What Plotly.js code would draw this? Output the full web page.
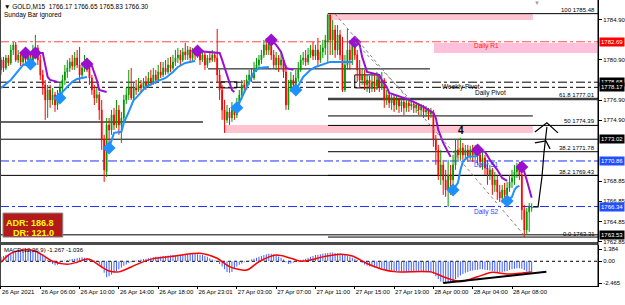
<!DOCTYPE html>
<html><head><meta charset="utf-8">
<script src="https://cdn.plot.ly/plotly-3.0.1.min.js"></script>
<style>html,body{margin:0;padding:0;background:#fff;}#chart{width:625px;height:305px;}</style>
</head><body><div id="chart"></div>
<script>
// ---------- time axis ----------
const tickIdx = [0,16,32,48,64,80,96,112,128,144,160,176,192,208];
const tickText = ['26 Apr 2021','26 Apr 06:00','26 Apr 10:00','26 Apr 14:00','26 Apr 18:00','26 Apr 23:01','27 Apr 03:00','27 Apr 07:00','27 Apr 11:00','27 Apr 15:00','27 Apr 19:00','28 Apr 00:00','28 Apr 04:00','28 Apr 08:00'];

// ---------- GOLD M15 OHLC ----------
const openP = [
1779.90,1780.89,1780.09,1781.09,1780.59,1781.88,1782.38,1780.89,1781.38,1780.69,
1781.38,1780.89,1781.28,1780.69,1781.88,1782.08,1780.89,1779.40,1778.41,1776.92,
1777.91,1776.92,1777.42,1776.42,1777.42,1778.11,1778.90,1779.70,1780.09,1780.69,
1780.29,1781.09,1780.39,1779.40,1780.09,1780.69,1780.29,1779.10,1777.91,1777.12,
1777.42,1775.93,1772.95,1769.78,1774.44,1773.94,1775.43,1774.44,1775.93,1774.44,
1775.13,1776.92,1777.42,1778.11,1777.12,1778.11,1777.91,1778.41,1778.11,1778.71,
1778.31,1779.10,1778.71,1779.40,1778.90,1779.70,1779.40,1780.09,1779.70,1780.39,
1780.09,1780.69,1781.09,1781.38,1780.89,1781.68,1781.38,1781.88,1781.09,1781.68,
1781.38,1781.68,1780.89,1781.38,1780.39,1781.09,1780.89,1781.38,1781.09,1779.40,
1777.91,1775.93,1774.94,1775.73,1775.13,1775.93,1775.43,1776.42,1777.42,1778.41,
1778.11,1778.90,1779.40,1779.10,1779.90,1780.39,1780.89,1781.38,1782.38,1781.88,
1782.67,1781.38,1780.39,1781.09,1780.39,1780.89,1779.70,1776.42,1778.11,1778.90,
1778.41,1779.10,1779.90,1780.89,1781.09,1780.69,1781.38,1781.88,1781.28,1781.88,
1780.89,1781.68,1782.08,1782.67,1785.35,1782.87,1783.86,1781.88,1783.37,1781.38,
1777.91,1780.39,1781.88,1780.89,1782.38,1781.38,1779.90,1778.90,1779.40,1778.41,
1778.90,1778.11,1778.71,1778.31,1778.90,1778.11,1778.90,1776.92,1777.42,1776.62,
1777.12,1776.42,1776.92,1776.32,1776.72,1776.13,1776.62,1776.32,1776.52,1776.13,
1776.42,1775.93,1776.23,1775.73,1775.93,1775.53,1775.73,1772.95,1771.96,1769.48,
1770.47,1768.98,1767.99,1769.48,1768.98,1770.47,1771.96,1771.46,1772.16,1771.46,
1771.96,1771.36,1771.96,1771.46,1771.96,1771.46,1770.77,1771.17,1770.17,1769.48,
1769.98,1768.49,1768.98,1767.79,1767.20,1767.99,1767.50,1768.19,1768.79,1769.18,
1769.78,1770.17,1769.48,1766.01,1764.02,1765.81,1766.17];
const highP = [
1781.19,1781.19,1781.38,1781.38,1782.38,1782.67,1782.67,1781.88,1781.68,1781.88,
1781.88,1781.68,1781.58,1782.38,1783.37,1782.38,1781.38,1779.90,1778.90,1778.41,
1778.41,1778.11,1777.71,1777.91,1778.71,1779.40,1780.39,1780.89,1781.09,1781.38,
1781.68,1781.88,1782.18,1780.69,1781.38,1781.09,1780.69,1779.40,1778.41,1778.11,
1777.71,1776.92,1773.45,1775.13,1775.13,1775.93,1776.13,1776.92,1776.42,1775.73,
1777.42,1778.11,1779.90,1780.09,1778.71,1778.90,1779.10,1778.90,1779.10,1779.30,
1779.70,1779.90,1780.09,1779.90,1780.39,1780.69,1780.69,1780.89,1781.09,1781.19,
1781.38,1781.88,1782.08,1781.88,1782.08,1782.57,1782.28,1782.18,1782.08,1782.08,
1782.08,1781.88,1781.88,1781.68,1781.38,1781.68,1781.88,1781.68,1783.96,1779.90,
1778.41,1776.92,1776.42,1776.13,1776.72,1776.42,1777.12,1777.91,1778.90,1778.90,
1779.40,1779.90,1780.09,1780.69,1781.09,1781.38,1781.88,1782.87,1783.07,1783.07,
1783.07,1781.88,1781.68,1781.38,1781.68,1781.09,1780.39,1778.90,1779.70,1779.40,
1779.90,1780.69,1781.38,1781.68,1781.88,1782.08,1782.38,1782.67,1782.38,1783.07,
1782.38,1782.87,1783.37,1785.48,1785.40,1784.86,1784.36,1784.36,1783.86,1783.17,
1781.38,1784.06,1782.87,1783.07,1782.87,1781.88,1780.89,1780.09,1779.90,1779.40,
1779.30,1779.60,1779.40,1779.70,1779.40,1779.70,1779.10,1777.91,1777.71,1777.42,
1777.42,1777.32,1777.12,1777.12,1776.92,1777.12,1776.92,1776.92,1776.82,1776.72,
1776.62,1776.52,1776.42,1776.32,1776.13,1776.13,1775.93,1773.45,1772.46,1771.96,
1770.97,1769.98,1770.97,1770.47,1771.46,1772.95,1772.95,1773.15,1772.65,1772.46,
1772.46,1772.36,1772.46,1772.46,1772.26,1771.96,1771.76,1771.46,1770.97,1770.47,
1770.17,1769.78,1769.48,1768.49,1768.49,1768.69,1768.79,1769.48,1769.98,1770.47,
1770.67,1770.77,1770.17,1766.50,1766.21,1766.70,1766.65];
const lowP = [
1779.40,1779.70,1779.90,1780.29,1780.39,1781.38,1780.69,1780.59,1780.29,1780.39,
1780.49,1780.39,1780.09,1780.59,1781.28,1780.39,1778.90,1777.42,1774.94,1775.13,
1776.13,1776.42,1775.73,1775.93,1776.92,1777.71,1778.41,1779.10,1779.70,1779.90,
1779.90,1780.09,1778.61,1779.10,1779.70,1779.70,1778.41,1777.42,1776.42,1776.62,
1774.94,1771.96,1768.79,1769.28,1772.46,1773.45,1773.94,1774.14,1773.45,1772.65,
1774.74,1776.52,1776.92,1776.92,1776.72,1777.42,1777.71,1777.61,1777.91,1777.91,
1778.11,1778.31,1778.41,1778.51,1778.71,1779.10,1779.20,1779.40,1779.50,1779.70,
1779.90,1780.29,1780.59,1780.39,1780.69,1780.89,1780.89,1780.59,1780.69,1780.89,
1781.09,1780.39,1780.69,1779.90,1780.09,1780.59,1780.69,1780.69,1778.61,1776.92,
1774.94,1773.65,1774.64,1774.44,1774.74,1774.94,1775.13,1775.93,1776.92,1777.71,
1777.91,1778.41,1778.71,1778.90,1779.70,1780.09,1780.49,1781.09,1781.38,1781.38,
1780.89,1780.09,1779.90,1779.70,1780.09,1779.10,1775.93,1775.93,1777.71,1777.91,
1777.71,1778.71,1779.70,1780.39,1780.29,1780.39,1781.09,1780.89,1780.89,1780.39,
1780.59,1781.09,1781.38,1780.69,1781.38,1781.38,1781.09,1781.38,1780.89,1777.71,
1777.71,1779.90,1779.90,1780.39,1780.89,1778.71,1778.11,1778.41,1777.91,1777.71,
1777.61,1777.71,1777.71,1777.91,1777.71,1777.91,1776.13,1776.42,1776.13,1775.93,
1775.73,1775.93,1775.63,1775.73,1775.43,1775.73,1775.73,1775.93,1775.63,1775.63,
1775.43,1775.43,1775.13,1775.23,1774.94,1775.13,1772.26,1770.47,1768.98,1768.49,
1767.50,1767.30,1766.31,1767.50,1767.79,1769.98,1770.97,1770.97,1770.97,1770.97,
1770.77,1770.97,1770.77,1770.97,1770.47,1770.17,1769.98,1769.48,1768.49,1768.98,
1767.50,1767.79,1767.00,1766.80,1766.70,1766.80,1767.00,1767.79,1768.19,1768.49,
1769.18,1768.98,1765.02,1763.31,1763.53,1763.83,1765.83];
const closeP = [
1780.89,1780.09,1781.09,1780.59,1781.88,1782.38,1780.89,1781.38,1780.69,1781.38,
1780.89,1781.28,1780.69,1781.88,1782.08,1780.89,1779.40,1778.41,1776.92,1777.91,
1776.92,1777.42,1776.42,1777.42,1778.11,1778.90,1779.70,1780.09,1780.69,1780.29,
1781.09,1780.39,1779.40,1780.09,1780.69,1780.29,1779.10,1777.91,1777.12,1777.42,
1775.93,1772.95,1769.98,1774.44,1773.94,1775.43,1774.44,1775.93,1774.44,1775.13,
1776.92,1777.42,1778.11,1777.12,1778.11,1777.91,1778.41,1778.11,1778.71,1778.31,
1779.10,1778.71,1779.40,1778.90,1779.70,1779.40,1780.09,1779.70,1780.39,1780.09,
1780.69,1781.09,1781.38,1780.89,1781.68,1781.38,1781.88,1781.09,1781.68,1781.38,
1781.68,1780.89,1781.38,1780.39,1781.09,1780.89,1781.38,1781.09,1779.40,1777.91,
1775.93,1774.94,1775.73,1775.13,1775.93,1775.43,1776.42,1777.42,1778.41,1778.11,
1778.90,1779.40,1779.10,1779.90,1780.39,1780.89,1781.38,1782.38,1781.88,1782.67,
1781.38,1780.39,1781.09,1780.39,1780.89,1779.70,1776.42,1778.11,1778.90,1778.41,
1779.10,1779.90,1780.89,1781.09,1780.69,1781.38,1781.88,1781.28,1781.88,1780.89,
1781.68,1782.08,1782.87,1785.35,1782.87,1783.86,1781.88,1783.37,1781.38,1777.91,
1780.39,1781.88,1780.89,1782.38,1781.38,1779.90,1778.90,1779.40,1778.41,1778.90,
1778.11,1778.71,1778.31,1778.90,1778.11,1778.90,1776.92,1777.42,1776.62,1777.12,
1776.42,1776.92,1776.32,1776.72,1776.13,1776.62,1776.32,1776.52,1776.13,1776.42,
1775.93,1776.23,1775.73,1775.93,1775.53,1775.73,1772.95,1771.96,1769.48,1770.47,
1768.98,1767.99,1769.48,1768.98,1770.47,1771.96,1771.46,1772.16,1771.46,1771.96,
1771.36,1771.96,1771.46,1771.96,1771.46,1770.77,1771.17,1770.17,1769.48,1769.98,
1768.49,1768.98,1767.79,1767.20,1767.99,1767.50,1768.19,1768.79,1769.18,1769.78,
1770.17,1769.48,1766.01,1764.02,1765.81,1766.31,1766.30];

// ---------- trailing stop lines & diamonds ----------
const purpleX = [10,17,18,19,20,23,null,35,37,38,39,40,43,null,80,89,90,91,93,94,95,null,110,112,114,115,116,119,null,
  144,146,147,149,154,155,157,158,164,168,172,176,177,178,180,182,183,null,194,197,199,202,204,206,null,212,213,214,215,216];
const purpleY = [1781.58,1781.58,1780.39,1779.20,1778.90,1778.71,null,1780.49,1780.29,1779.60,1778.90,1777.91,1777.71,null,
  1781.78,1781.58,1780.89,1780.09,1778.71,1777.91,1777.71,null,1782.87,1782.38,1781.68,1780.89,1780.09,1779.90,null,
  1782.67,1782.38,1781.19,1779.70,1779.40,1778.90,1778.21,1777.61,1777.12,1776.72,1776.23,1775.63,1775.13,1773.94,1772.65,1771.66,1771.27,null,
  1771.96,1771.76,1770.97,1769.98,1769.18,1768.89,null,1770.27,1769.78,1768.98,1767.99,1767.20];
const blueX = [0,1,4,6,8,9,12,null,24,25,27,29,31,35,null,44,46,49,50,52,54,55,59,63,67,70,72,75,79,null,
  96,98,100,101,103,105,109,null,120,122,123,126,128,134,143,null,184,186,187,188,190,194,null,206,208,209,210,211];
const blueY = [1778.11,1778.31,1778.90,1779.50,1780.09,1780.39,1780.49,null,1777.12,1777.71,1778.21,1778.71,1779.00,1779.20,null,
  1772.16,1773.65,1773.75,1774.64,1775.73,1776.92,1777.12,1778.21,1778.71,1779.10,1779.70,1780.19,1780.59,1780.79,null,
  1776.13,1777.12,1778.11,1778.71,1779.70,1780.09,1780.19,null,1777.91,1778.71,1779.20,1779.90,1780.19,1780.69,1780.69,null,
  1767.99,1768.69,1769.98,1770.77,1771.27,1771.36,null,1766.90,1767.30,1767.99,1768.29,1768.39];
const purpleDiaX = [10,14,35,80,110,144,194,212];
const purpleDiaY = [1781.58,1781.58,1780.49,1781.78,1782.87,1782.67,1771.96,1770.27];
const blueDiaX = [12,24,44,96,120,184,206];
const blueDiaY = [1780.49,1777.12,1772.16,1776.13,1777.91,1767.99,1766.90];

// ---------- hand drawn arrows ----------
const arrowX = [216.5,218.6,220.2,221.0,222.2,null,217.3,222.2,226.7,null,217.3,221.8,223.5];
const arrowY = [1766.31,1766.31,1769.28,1771.66,1774.24,null,1773.74,1774.64,1773.65,null,1772.65,1772.85,1772.06];

// ---------- MACD(12,26,9) ----------
const macdHist = [
0.5,0.6,0.7,0.8,0.9,1.0,1.1,1.2,1.2,1.3,
1.3,1.35,1.3,1.25,1.2,1.1,0.95,0.75,0.45,0.15,
-0.1,-0.3,-0.45,-0.4,-0.25,-0.1,0.05,0.15,0.2,0.25,
0.3,0.35,0.4,0.45,0.4,0.35,0.3,0.2,0.1,0.0,
-0.3,-0.8,-1.3,-1.8,-1.7,-1.5,-1.3,-1.1,-0.9,-0.7,
-0.5,-0.35,-0.2,-0.1,0.0,0.1,0.15,0.2,0.25,0.3,
0.35,0.4,0.45,0.5,0.5,0.55,0.6,0.6,0.65,0.65,
0.7,0.7,0.7,0.75,0.75,0.8,0.8,0.8,0.85,0.85,
0.8,0.75,0.7,0.6,0.5,0.35,0.2,0.1,0.0,-0.3,
-0.6,-0.9,-1.2,-1.3,-1.2,-0.9,-0.6,-0.4,-0.25,-0.1,
0.0,0.1,0.2,0.3,0.4,0.5,0.6,0.7,0.8,0.85,
0.85,0.8,0.7,0.55,0.4,0.2,-0.1,-0.3,-0.25,-0.15,
-0.05,0.05,0.1,0.2,0.3,0.4,0.5,0.6,0.7,0.75,
0.8,0.85,0.9,0.95,1.0,1.0,0.95,0.9,0.85,0.75,
0.7,0.6,0.5,0.4,0.3,0.15,0.0,-0.2,-0.35,-0.5,
-0.55,-0.6,-0.7,-0.75,-0.8,-0.85,-0.9,-1.0,-1.0,-1.05,
-1.1,-1.1,-1.15,-1.15,-1.2,-1.2,-1.2,-1.25,-1.25,-1.2,
-1.2,-1.2,-1.25,-1.25,-1.2,-1.25,-1.4,-1.7,-2.0,-2.3,
-2.45,-2.5,-2.45,-2.35,-2.2,-2.0,-1.8,-1.6,-1.45,-1.3,
-1.2,-1.1,-1.05,-1.0,-0.95,-0.9,-0.9,-0.95,-1.0,-1.05,
-1.1,-1.15,-1.2,-1.2,-1.2,-1.15,-1.1,-1.0,-0.9,-0.85,
-0.8,-0.8,-0.85,-1.0,-1.15,-1.22,-1.27];
const signalX = [0,4,8,13,17,21,27,31,35,37,40,44,48,53,57,62,70,78,81,88,93,100,105,112,118,122,126,131,138,143,149,155,161,175,180,187,194,200,206,211,216];
const signalY = [-0.1,0.9,1.25,1.25,0.7,0.0,-0.34,-0.1,0.25,0.1,-0.45,-1.1,-1.2,-0.64,-0.15,0.3,0.57,0.87,0.9,0.34,-0.6,-1.0,-0.05,0.7,0.34,0.0,0.15,0.5,0.8,0.6,-0.25,-0.9,-1.2,-1.2,-1.75,-2.3,-1.75,-1.25,-1.45,-1.35,-1.2];
const macdTrendX = [180,222];
const macdTrendY = [-2.46,-1.18];

// ---------- levels ----------
const priceTicks = [1784.90,1780.90,1776.90,1774.90,1768.85,1766.85,1764.85,1762.85];
const macdTicks = [1.384,0,-2.465];
const macdTickText = ['1.384','0.00','-2.465'];
const fullLevels = [1782.69,1778.68,1778.17,1773.02,1770.86,1769.43,1766.34,1763.53];
const fullStyles = [['#ff4a4a','dashdot'],['#000','dashdot'],['#000','dashdot'],['#000','solid'],['#1f2fff','dashdot'],['#000','solid'],['#1f2fff','dashdot'],['#000','solid']];
const fibLevels = [1785.48,1777.01,1774.39,1771.78,1769.43,1763.31];
const fibText = ['100 1785.48','61.8 1777.01','50 1774.39','38.2 1771.78','38.2 1769.43','0.0 1763.31'];
const tagPrices = [1782.69,1778.68,1778.17,1773.02,1770.86,1766.34,1763.53];
const tagColors = ['#ff0000','#000','#000','#000','#2050ff','#2050ff','#000'];

const bars = openP.map((_, i) => i);
const FONT = 'Liberation Sans, Arial, sans-serif';
const XMAX = 243.0;

const traces = [
  {type:'candlestick', x:bars, open:openP, high:highP, low:lowP, close:closeP, xaxis:'x', yaxis:'y',
   increasing:{line:{color:'#009a00',width:1}, fillcolor:'#009a00'},
   decreasing:{line:{color:'#ff0000',width:1}, fillcolor:'#ff0000'}, whiskerwidth:0, hoverinfo:'skip'},
  {type:'scatter', mode:'lines', x:purpleX, y:purpleY, line:{color:'#9a10d0',width:2}, connectgaps:false, xaxis:'x', yaxis:'y'},
  {type:'scatter', mode:'lines', x:blueX, y:blueY, line:{color:'#1e90ff',width:2}, connectgaps:false, xaxis:'x', yaxis:'y'},
  {type:'scatter', mode:'markers', x:purpleDiaX, y:purpleDiaY, marker:{symbol:'diamond',size:10,color:'#9a10d0'}, xaxis:'x', yaxis:'y'},
  {type:'scatter', mode:'markers', x:blueDiaX, y:blueDiaY, marker:{symbol:'diamond',size:10,color:'#1e90ff'}, xaxis:'x', yaxis:'y'},
  {type:'scatter', mode:'lines', x:arrowX, y:arrowY, line:{color:'#000',width:1.2}, connectgaps:false, xaxis:'x', yaxis:'y'},
  {type:'bar', x:bars, y:macdHist, width:0.4, marker:{color:'#3d5cff',line:{width:0}}, xaxis:'x', yaxis:'y2'},
  {type:'scatter', mode:'lines', x:signalX, y:signalY, line:{color:'#ff0000',width:1.5,shape:'spline',smoothing:0.8}, xaxis:'x', yaxis:'y2'},
  {type:'scatter', mode:'lines', x:macdTrendX, y:macdTrendY, line:{color:'#000',width:2}, xaxis:'x', yaxis:'y2'}
];

const shapes = [];
// pink zones
shapes.push({type:'rect', xref:'x', yref:'y', x0:133.5, x1:216.5, y0:1784.85, y1:1785.45, fillcolor:'#ffc4d0', line:{width:0}, layer:'below'});
shapes.push({type:'rect', xref:'x', yref:'y', x0:176.2, x1:242.6, y0:1781.58, y1:1782.57, fillcolor:'#ffc0dc', line:{width:0}, layer:'below'});
shapes.push({type:'rect', xref:'x', yref:'y', x0:90.8, x1:216.5, y0:1773.64, y1:1774.44, fillcolor:'#ffc4d0', line:{width:0}, layer:'below'});
// full-width levels
fullLevels.forEach((v, k) => shapes.push({type:'line', xref:'paper', yref:'y', x0:0, x1:1, y0:v, y1:v,
  line:{color:fullStyles[k][0], width:1, dash:fullStyles[k][1]}, layer:'below'}));
// fibonacci levels (from the swing high onwards)
fibLevels.forEach((v, k) => shapes.push({type:'line', xref:'x', yref:'y', x0:133.1, x1:XMAX, y0:v, y1:v,
  line:{color: k===1 ? '#404040' : '#000', width: k===1 ? 2.5 : 1}, layer:'below'}));
// other drawn segments
shapes.push({type:'line', xref:'x', yref:'y', x0:84.3, x1:174.6, y0:1780.00, y1:1780.00, line:{color:'#000',width:1}, layer:'below'});
shapes.push({type:'line', xref:'x', yref:'y', x0:133.1, x1:216.5, y0:1775.33, y1:1775.33, line:{color:'#000',width:1}, layer:'below'});
shapes.push({type:'line', xref:'x', yref:'y', x0:-0.4, x1:82.2, y0:1774.74, y1:1774.74, line:{color:'#333',width:1.5}, layer:'below'});
shapes.push({type:'rect', xref:'x', yref:'y', x0:144, x1:153.5, y0:1778.11, y1:1779.40, line:{color:'#000',width:1}, layer:'below'});
shapes.push({type:'rect', xref:'x', yref:'y', x0:89.5, x1:96, y0:1778.11, y1:1778.71, line:{color:'#000',width:1}, layer:'below'});
// dotted trend lines
shapes.push({type:'line', xref:'x', yref:'y', x0:136, x1:213.3, y0:1785.45, y1:1763.40, line:{color:'#808080',width:1,dash:'dot'}});
shapes.push({type:'line', xref:'x', yref:'y', x0:144, x1:166.5, y0:1782.67, y1:1777.00, line:{color:'#808080',width:1,dash:'dot'}});
// MACD zero line
shapes.push({type:'line', xref:'paper', yref:'y2', x0:0, x1:1, y0:0, y1:0, line:{color:'#000',width:1,dash:'dot'}, layer:'below'});
// frame
shapes.push({type:'line', xref:'paper', yref:'paper', x0:0, x1:1, y0:0.1486, y1:0.1486, line:{color:'#4a4a4a',width:3}});
shapes.push({type:'line', xref:'paper', yref:'paper', x0:0, x1:0, y0:0, y1:1, line:{color:'#444',width:2}});
shapes.push({type:'line', xref:'paper', yref:'paper', x0:1, x1:1, y0:0, y1:1, line:{color:'#000',width:1}});
// ADR box
shapes.push({type:'rect', xref:'paper', yref:'paper', x0:0.005, x1:0.105, y0:0.171, y1:0.255, fillcolor:'#b31b1b', line:{color:'#8a8a8a',width:1}});

const annotations = [];
const A = (o) => annotations.push(Object.assign({showarrow:false, font:{family:FONT,size:6,color:'#000'}}, o));
A({xref:'paper', yref:'paper', x:0.004, y:0.979, xanchor:'left', yanchor:'middle', text:'▼ GOLD,M15  1766.17 1766.65 1765.83 1766.30', font:{family:FONT,size:6.5,color:'#000'}});
A({xref:'paper', yref:'paper', x:0.004, y:0.946, xanchor:'left', yanchor:'middle', text:'Sunday Bar ignored', font:{family:FONT,size:6.5,color:'#000'}});
A({xref:'paper', yref:'paper', x:0.004, y:0.126, xanchor:'left', yanchor:'middle', text:'MACD(12,26,9) -1.267 -1.036', font:{family:FONT,size:6,color:'#000'}});
A({xref:'paper', yref:'paper', x:0.093, y:0.221, xanchor:'right', yanchor:'middle', text:'<b>ADR: 186.8</b>', font:{family:FONT,size:9,color:'#ffff00'}});
A({xref:'paper', yref:'paper', x:0.093, y:0.184, xanchor:'right', yanchor:'middle', text:'<b>DR: 121.0</b>', font:{family:FONT,size:9,color:'#ffff00'}});
const fibTextY = [1785.89,1777.36,1774.83,1772.15,1769.77,1763.62];
fibText.forEach((t, k) => A({xref:'x', yref:'y', x:242.6, y:fibTextY[k], xanchor:'right', yanchor:'middle', text:t}));
A({xref:'x', yref:'y', x:191.7, y:1782.27, xanchor:'left', yanchor:'middle', text:'Daily R1', font:{family:FONT,size:6.5,color:'#ff2020'}});
A({xref:'x', yref:'y', x:178.7, y:1778.20, xanchor:'left', yanchor:'middle', text:'Weekly Pivot', font:{family:FONT,size:6.5,color:'#000'}});
A({xref:'x', yref:'y', x:192.0, y:1777.62, xanchor:'left', yanchor:'middle', text:'Daily Pivot', font:{family:FONT,size:6.5,color:'#000'}});
A({xref:'x', yref:'y', x:187.2, y:1773.84, xanchor:'center', yanchor:'middle', text:'<b>4</b>', font:{family:FONT,size:10,color:'#000'}});
A({xref:'x', yref:'y', x:191.7, y:1770.42, xanchor:'left', yanchor:'middle', text:'Daily S1', font:{family:FONT,size:6.5,color:'#2040ff'}});
A({xref:'x', yref:'y', x:191.7, y:1765.80, xanchor:'left', yanchor:'middle', text:'Daily S2', font:{family:FONT,size:6.5,color:'#2040ff'}});
A({xref:'x', yref:'paper', x:218, y:0.99, xanchor:'center', yanchor:'middle', text:'▼', font:{family:FONT,size:6,color:'#a0a0a0'}});
tagPrices.forEach((p, k) => A({xref:'paper', yref:'y', x:1, xshift:1, y:p, xanchor:'left', yanchor:'middle',
  text:p.toFixed(2), bgcolor:tagColors[k], borderpad:1, font:{family:FONT,size:6,color:'#fff'}}));

const layout = {
  width:625, height:305, margin:{l:0,r:27,t:0,b:19},
  paper_bgcolor:'#fff', plot_bgcolor:'#fff', showlegend:false, hovermode:false, dragmode:false,
  boxgap:0.55,
  xaxis:{range:[-0.4, XMAX], anchor:'y2', showgrid:false, zeroline:false, showline:true, linecolor:'#000', linewidth:1,
    tickvals:tickIdx, ticktext:tickText, ticks:'outside', ticklen:2, tickcolor:'#000', tickangle:0,
    ticklabelposition:'outside right', tickfont:{family:FONT,size:6,color:'#000'},
    rangeslider:{visible:false}, automargin:false, fixedrange:true},
  yaxis:{domain:[0.1521,1], range:[1762.77,1786.835], side:'right', anchor:'x', showgrid:false, zeroline:false,
    showline:true, linecolor:'#000', tickvals:priceTicks, ticktext:priceTicks.map(v=>v.toFixed(2)),
    ticks:'outside', ticklen:3, tickcolor:'#000', tickfont:{family:FONT,size:6,color:'#000'}, automargin:false, fixedrange:true},
  yaxis2:{domain:[0,0.1434], range:[-2.80,1.846], side:'right', anchor:'x', showgrid:false, zeroline:false,
    showline:true, linecolor:'#000', tickvals:macdTicks, ticktext:macdTickText,
    ticks:'outside', ticklen:3, tickcolor:'#000', tickfont:{family:FONT,size:6,color:'#000'}, automargin:false, fixedrange:true},
  shapes:shapes, annotations:annotations
};
Plotly.newPlot('chart', traces, layout, {staticPlot:true, displayModeBar:false});
</script></body></html>
